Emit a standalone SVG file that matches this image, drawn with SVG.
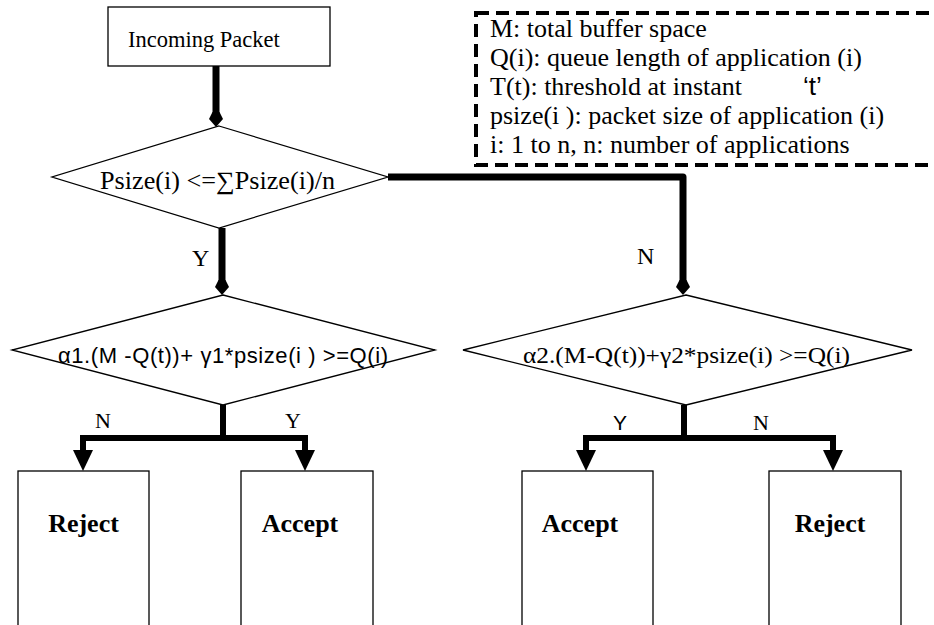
<svg xmlns="http://www.w3.org/2000/svg" width="934" height="625" viewBox="0 0 934 625">
  <style>
    .box { fill: #fff; stroke: #000; stroke-width: 1.3; }
    .dia { fill: #fff; stroke: #000; stroke-width: 1.3; }
    .serif { font-family: "Liberation Serif", "Times New Roman", serif; fill: #000; }
    .sans { font-family: "Liberation Sans", Arial, sans-serif; fill: #000; }
    .bold { font-weight: bold; }
    .wire { fill: none; stroke: #000; stroke-width: 7; stroke-linejoin: round; }
    .branch { fill: none; stroke: #000; stroke-width: 6; stroke-linejoin: miter; }
    .legend { fill: none; stroke: #000; stroke-width: 4; stroke-dasharray: 13 7; }
    .key { font-size: 26px; }
  </style>

  <!-- legend -->
  <g id="legend">
    <rect class="legend" x="476" y="13" width="480" height="152"/>
    <text class="serif key" x="490" y="37">M: total buffer space</text>
    <text class="serif key" x="490" y="66">Q(i): queue length of application (i)</text>
    <text class="serif key" x="490" y="95">T(t): threshold at instant</text>
    <text class="sans key" x="803" y="95">‘t’</text>
    <text class="serif key" x="490" y="124">psize(i ): packet size of application (i)</text>
    <text class="serif key" x="490" y="153">i: 1 to n, n: number of applications</text>
  </g>

  <!-- connectors -->
  <g id="connectors">
    <path class="wire" d="M216,66 V116"/>
    <path d="M212.5,112 L209,119 L216,127 L223,119 L219.5,112 Z" fill="#000"/>
    <path class="wire" d="M222,228 V284"/>
    <path d="M218.5,280 L215,287 L222,295 L229,287 L225.5,280 Z" fill="#000"/>
    <path class="wire" d="M388,177 H683 V284"/>
    <path d="M679.5,280 L676,287 L683,295 L690,287 L686.5,280 Z" fill="#000"/>
    <path class="branch" d="M223,405 V438"/>
    <path class="branch" d="M83,452 V438 H305 V452"/>
    <path d="M73,450 L93,450 L83,471 Z" fill="#000"/>
    <path d="M295,450 L315,450 L305,471 Z" fill="#000"/>
    <path class="branch" d="M684,405 V438"/>
    <path class="branch" d="M586,452 V438 H833 V452"/>
    <path d="M576,450 L596,450 L586,471 Z" fill="#000"/>
    <path d="M823,450 L843,450 L833,471 Z" fill="#000"/>
  </g>

  <!-- branch labels -->
  <g id="labels">
    <text class="serif" font-size="24" x="192" y="266">Y</text>
    <text class="serif" font-size="24" x="637" y="264">N</text>
    <text class="serif" font-size="22" x="95" y="428">N</text>
    <text class="serif" font-size="22" x="285" y="428">Y</text>
    <text class="sans" font-size="21" x="613" y="430">Y</text>
    <text class="serif" font-size="22" x="753" y="430">N</text>
  </g>

  <g id="incoming">
    <rect class="box" x="108" y="7" width="222" height="59"/>
    <text class="serif" font-size="22.5" x="128" y="47">Incoming Packet</text>
  </g>

  <g id="size-check">
    <polygon class="dia" points="219,126 388,177 219,228 52,177"/>
    <text class="serif" font-size="25" x="100" y="189" textLength="235" lengthAdjust="spacingAndGlyphs">Psize(i) &lt;=∑Psize(i)/n</text>
  </g>

  <g id="cond-small">
    <polygon class="dia" points="223,295 435,350 223,405 12,350"/>
    <text class="sans" font-size="22" x="58" y="363" textLength="330" lengthAdjust="spacing">α1.(M -Q(t))+ γ1*psize(i ) &gt;=Q(i)</text>
  </g>

  <g id="cond-large">
    <polygon class="dia" points="686,295 912,350 686,405 463,350"/>
    <text class="serif" font-size="24" x="523" y="363" textLength="327" lengthAdjust="spacingAndGlyphs">α2.(M-Q(t))+γ2*psize(i) &gt;=Q(i)</text>
  </g>

  <g id="reject-1">
    <rect class="box" x="18" y="471" width="131" height="170"/>
    <text class="serif bold" font-size="26" x="83.5" y="532" text-anchor="middle">Reject</text>
  </g>
  <g id="accept-1">
    <rect class="box" x="241" y="471" width="132" height="170"/>
    <text class="serif bold" font-size="26" x="300" y="532" text-anchor="middle">Accept</text>
  </g>
  <g id="accept-2">
    <rect class="box" x="522" y="471" width="131" height="170"/>
    <text class="serif bold" font-size="26" x="580" y="532" text-anchor="middle">Accept</text>
  </g>
  <g id="reject-2">
    <rect class="box" x="769" y="471" width="132" height="170"/>
    <text class="serif bold" font-size="26" x="830" y="532" text-anchor="middle">Reject</text>
  </g>
</svg>
